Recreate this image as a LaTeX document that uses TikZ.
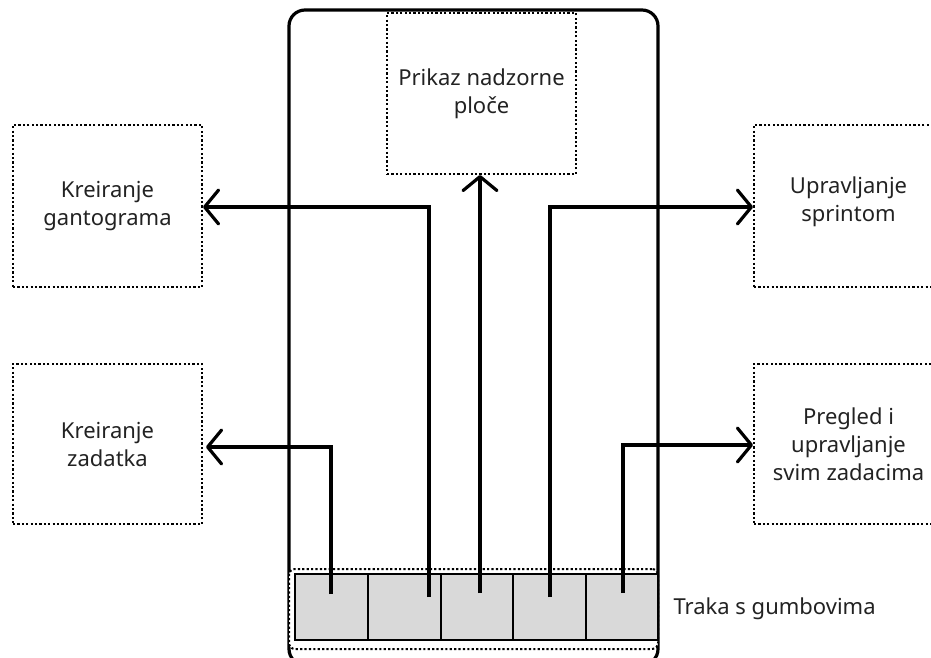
\documentclass[tikz,border=0pt]{standalone}
\usepackage{fontspec}
\setmainfont{Noto Sans}
\usetikzlibrary{arrows.meta,calc}
\definecolor{cellgray}{HTML}{D9D9D9}
\definecolor{txt}{HTML}{222222}
\begin{document}
\begin{tikzpicture}[x=1pt,y=-1pt,
  dotbox/.style={draw, line width=2pt, dash pattern=on 2.2pt off 2.2pt, minimum width=189pt, align=center,
    font=\fontsize{22}{28}\selectfont, inner sep=0pt, text=txt},
  cell/.style={draw, fill=cellgray, line width=1.8pt, minimum width=72.6pt, minimum height=66pt, inner sep=0pt},
  conn/.style={line width=3.2pt, -{Straight Barb[length=14pt,width=34pt,line width=3.2pt,round]}},
  lbl/.style={font=\fontsize{22}{28}\selectfont, text=txt}
]
\useasboundingbox (0,0) rectangle (931,657);
\clip (0,0) rectangle (931,657);
% phone frame
\node[draw, line width=3.2pt, rounded corners=16pt, minimum width=369pt, minimum height=655pt, inner sep=0pt] (phone) at (473.5,337.5) {};
% boxes
\node[dotbox, minimum height=161pt] (prikaz) at (481.5,93.5) {Prikaz nadzorne\\ploče};
\node[dotbox, minimum height=162pt] (gantt) at (107.5,206) {Kreiranje\\gantograma};
\node[dotbox, minimum height=160pt] (zad) at (107.5,444) {Kreiranje\\zadatka};
\node[dotbox, minimum height=162pt, text depth=14pt] (sprint) at (848.5,206) {Upravljanje\\sprintom};
\node[dotbox, minimum height=160pt] (pregled) at (848.5,444) {Pregled i\\upravljanje\\svim zadacima};
% toolbar
\node[draw, fill=white, line width=2pt, dash pattern=on 2.2pt off 2.2pt, rounded corners=6pt, minimum width=369pt, minimum height=80pt, inner sep=0pt] (bar) at (473.5,609) {};
\node[cell] (b1) at (331.5,607) {};
\node[cell, line width=2.4pt] (b2) at (404.5,607) {};
\node[cell] (b3) at (477,607) {};
\node[cell, line width=2.4pt] (b4) at (549.5,607) {};
\node[cell] (b5) at (622,607) {};
\node[lbl, anchor=west] (traka) at (670,609) {Traka s gumbovima};
% connector start points
\coordinate (s1) at (331,594);
\coordinate (s2) at (429,597);
\coordinate (s3) at (480,593);
\coordinate (s4) at (550,597);
\coordinate (s5) at (623,593);
\draw[conn] (s1) |- ($(zad.east)+(3,3)$);
\draw[conn] (s2) |- ($(gantt.east)+(0,1)$);
\draw[conn] (s3) -- (s3 |- prikaz.south);
\draw[conn] (s4) |- ($(sprint.west)+(0,1)$);
\draw[conn] (s5) |- ($(pregled.west)+(0,1)$);
\end{tikzpicture}
\end{document}
